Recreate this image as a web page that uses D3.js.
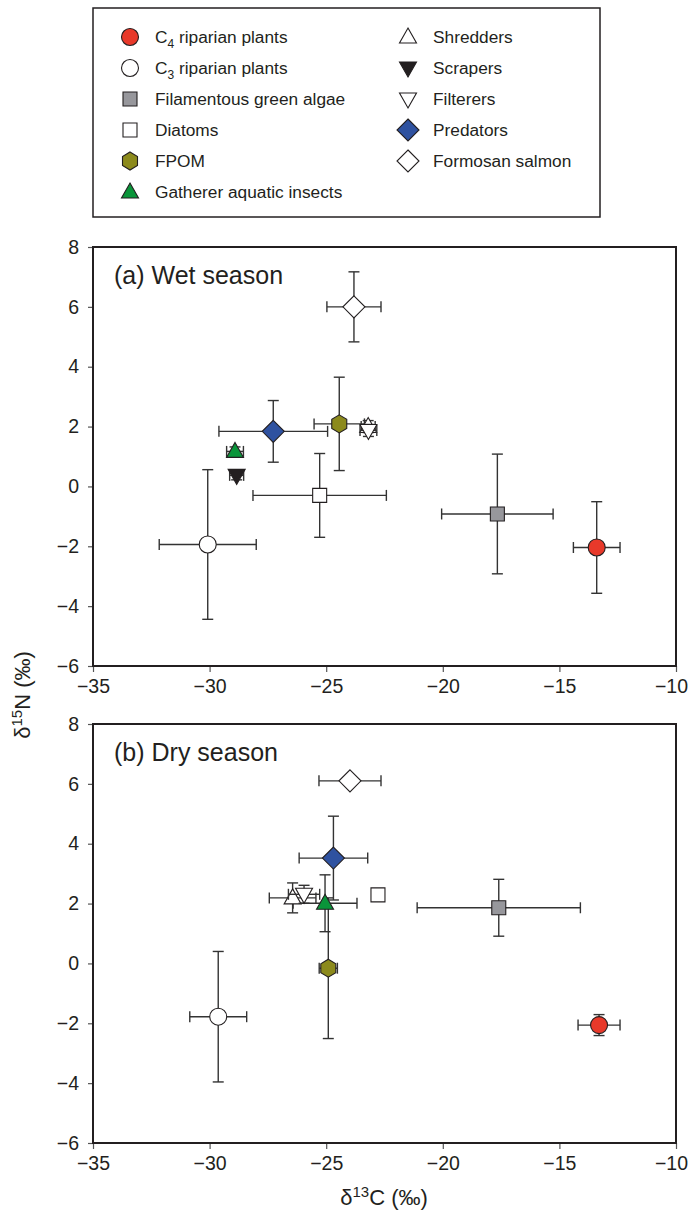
<!DOCTYPE html>
<html lang="en">
<head>
  <meta charset="UTF-8"/>
  <title>Stable isotope biplot</title>
  <script src="https://d3js.org/d3.v7.min.js"></script>
  <style>
    body { margin: 0; background: #fff; }
    text { font-family: "Liberation Sans", Arial, sans-serif; fill: #231f20; }
  </style>
</head>
<body>
<svg id="chart"></svg>
<script>
// groups, in drawing order
var groups = ["C4", "C3", "FGA", "Diatoms", "FPOM", "Gatherer", "Shredders", "Scrapers", "Filterers", "Predators", "Salmon"];

// wet season: d13C, d15N, and their error half-widths
var wetX    = [-13.40, -30.08, -17.66, -25.28, -24.44, -28.91, -23.20, -28.84, -23.19, -27.27, -23.81];
var wetY    = [ -2.04,  -1.94,  -0.92,  -0.30,   2.09,   1.17,   2.00,   0.37,   1.87,   1.84,   6.00];
var wetXerr = [  1.00,   2.08,   2.39,   2.86,   1.08,   0.36,   0.30,   0.30,   0.36,   2.33,   1.16];
var wetYerr = [  1.53,   2.50,   2.00,   1.40,   1.56,   0.15,   0.20,   0.15,   0.20,   1.03,   1.17];

// dry season (no scrapers shown)
var dryX    = [-13.30, -29.63, -17.60, -22.78, -24.91, -25.05, -26.44, null, -25.95, -24.69, -23.98];
var dryY    = [ -2.06,  -1.78,   1.86,   2.29,  -0.16,   2.01,   2.19, null,   2.31,   3.52,   6.10];
var dryXerr = [  0.90,   1.22,   3.50,   0.00,   0.39,   1.37,   1.00, null,   0.67,   1.47,   1.33];
var dryYerr = [  0.35,   2.18,   0.95,   0.00,   2.35,   0.95,   0.50, null,   0.30,   1.40,   0.00];

var xTicks = [-35, -30, -25, -20, -15, -10];
var yTicks = [-6, -4, -2, 0, 2, 4, 6, 8];

var legendCol1 = ["C4", "C3", "FGA", "Diatoms", "FPOM", "Gatherer"];
var legendCol2 = ["Shredders", "Scrapers", "Filterers", "Predators", "Salmon"];

var style = {
  C4:        {shape: "circle",   fill: "#e8392a", label: ["C", "4", " riparian plants"]},
  C3:        {shape: "circle",   fill: "#ffffff", label: ["C", "3", " riparian plants"]},
  FGA:       {shape: "square",   fill: "#97979c", label: ["Filamentous green algae"]},
  Diatoms:   {shape: "square",   fill: "#ffffff", label: ["Diatoms"]},
  FPOM:      {shape: "hexagon",  fill: "#8c8a1c", label: ["FPOM"]},
  Gatherer:  {shape: "triUp",    fill: "#0a953a", label: ["Gatherer aquatic insects"]},
  Shredders: {shape: "triUp",    fill: "#ffffff", label: ["Shredders"]},
  Scrapers:  {shape: "triDown",  fill: "#231f20", label: ["Scrapers"]},
  Filterers: {shape: "triDown",  fill: "#ffffff", label: ["Filterers"]},
  Predators: {shape: "diamond",  fill: "#2f52a0", label: ["Predators"]},
  Salmon:    {shape: "diamond",  fill: "#ffffff", label: ["Formosan salmon"]}
};

var W = 691, H = 1215;
var svg = d3.select("#chart").attr("width", W).attr("height", H);

function shapePath(shape) {
  if (shape == "circle") {
    var q = d3.path();
    q.arc(0, 0, 8.5, 0, 2 * Math.PI);
    return q.toString();
  }
  var p;
  if (shape == "square") p = [[-7,-7],[7,-7],[7,7],[-7,7]];
  if (shape == "hexagon") p = [[0,-9],[7.5,-4.5],[7.5,4.5],[0,9],[-7.5,4.5],[-7.5,-4.5]];
  if (shape == "triUp") p = [[0,-9],[8.5,6],[-8.5,6]];
  if (shape == "triDown") p = [[0,9],[8.5,-6],[-8.5,-6]];
  if (shape == "diamond") p = [[0,-11],[11,0],[0,11],[-11,0]];
  return "M" + p.map(function(d){ return d.join(","); }).join("L") + "Z";
}

var x = d3.scaleLinear().domain([-35, -10]).range([93, 676]);

function minus(d) { return d < 0 ? "\u2212" + Math.abs(d) : d; }

function panel(top, title, xs, ys, xe, ye) {
  var y = d3.scaleLinear().domain([-6, 8]).range([top + 419, top]);
  var g = svg.append("g");

  g.append("g")
    .attr("transform", "translate(93,0)")
    .call(d3.axisLeft(y).tickValues(yTicks).tickSize(5).tickSizeOuter(0).tickPadding(9).tickFormat(minus))
    .call(function(a){ a.select(".domain").remove(); })
    .call(function(a){ a.selectAll("line").attr("stroke", "#555").attr("stroke-width", 1.2); })
    .call(function(a){ a.selectAll("text").style("font-size", "19.5px").attr("fill", "#231f20"); });

  var xa = g.append("g")
    .attr("transform", "translate(0," + (top + 419) + ")")
    .call(d3.axisBottom(x).tickValues(xTicks).tickSize(6).tickSizeOuter(0).tickPadding(7).tickFormat(minus))
    .call(function(a){ a.select(".domain").remove(); })
    .call(function(a){ a.selectAll("line").attr("stroke", "#555").attr("stroke-width", 1.2); })
    .call(function(a){ a.selectAll("text").style("font-size", "19.5px").attr("fill", "#231f20"); });
  // keep the last label inside the page
  xa.selectAll(".tick text").filter(function(d){ return d == -10; }).attr("dx", -5);

  g.append("rect")
    .attr("x", 93).attr("y", top).attr("width", 583).attr("height", 419)
    .attr("fill", "none").attr("stroke", "#231f20").attr("stroke-width", 2);

  g.append("text").attr("x", 114).attr("y", top + 37)
    .style("font-size", "25px").text(title);

  var cap = 5.5;
  groups.forEach(function(k, i) {
    if (xs[i] == null) return;
    var cx = x(xs[i]), cy = y(ys[i]);
    var eb = g.append("g").attr("stroke", "#333").attr("stroke-width", 1.4).attr("fill", "none");
    if (xe[i] > 0) {
      var x0 = x(xs[i] - xe[i]), x1 = x(xs[i] + xe[i]);
      eb.append("line").attr("x1", x0).attr("x2", x1).attr("y1", cy).attr("y2", cy);
      eb.append("line").attr("x1", x0).attr("x2", x0).attr("y1", cy - cap).attr("y2", cy + cap);
      eb.append("line").attr("x1", x1).attr("x2", x1).attr("y1", cy - cap).attr("y2", cy + cap);
    }
    if (ye[i] > 0) {
      var y0 = y(ys[i] - ye[i]), y1 = y(ys[i] + ye[i]);
      eb.append("line").attr("x1", cx).attr("x2", cx).attr("y1", y0).attr("y2", y1);
      eb.append("line").attr("x1", cx - cap).attr("x2", cx + cap).attr("y1", y0).attr("y2", y0);
      eb.append("line").attr("x1", cx - cap).attr("x2", cx + cap).attr("y1", y1).attr("y2", y1);
    }
    g.append("path")
      .attr("d", shapePath(style[k].shape))
      .attr("transform", "translate(" + cx + "," + cy + ")")
      .attr("fill", style[k].fill)
      .attr("stroke", "#231f20").attr("stroke-width", 1.1);
  });
}

panel(247, "(a) Wet season", wetX, wetY, wetXerr, wetYerr);
panel(724, "(b) Dry season", dryX, dryY, dryXerr, dryYerr);

// legend
var lg = svg.append("g");
lg.append("rect").attr("x", 93).attr("y", 8).attr("width", 507).attr("height", 209)
  .attr("fill", "none").attr("stroke", "#231f20").attr("stroke-width", 1.5);

function legendCol(keys, sx, tx) {
  keys.forEach(function(k, i) {
    var ry = 37 + i * 31;
    lg.append("path").attr("d", shapePath(style[k].shape))
      .attr("transform", "translate(" + sx + "," + ry + ")")
      .attr("fill", style[k].fill).attr("stroke", "#231f20").attr("stroke-width", 1.1);
    var t = lg.append("text").attr("x", tx).attr("y", ry + 6).style("font-size", "17.3px");
    var lab = style[k].label;
    if (lab.length == 3) {
      t.append("tspan").text(lab[0]);
      t.append("tspan").attr("dy", 5).style("font-size", "12px").text(lab[1]);
      t.append("tspan").attr("dy", -5).text(lab[2]);
    } else {
      t.text(lab[0]);
    }
  });
}
legendCol(legendCol1, 130, 155);
legendCol(legendCol2, 408, 433);

// axis titles
var yt = svg.append("text")
  .attr("transform", "translate(30,695) rotate(-90)")
  .attr("text-anchor", "middle").style("font-size", "22px");
yt.append("tspan").text("\u03b4");
yt.append("tspan").attr("dy", -8).style("font-size", "15px").text("15");
yt.append("tspan").attr("dy", 8).text("N (\u2030)");

var xt = svg.append("text")
  .attr("x", 384).attr("y", 1205)
  .attr("text-anchor", "middle").style("font-size", "22px");
xt.append("tspan").text("\u03b4");
xt.append("tspan").attr("dy", -8).style("font-size", "15px").text("13");
xt.append("tspan").attr("dy", 8).text("C (\u2030)");
</script>
</body>
</html>
